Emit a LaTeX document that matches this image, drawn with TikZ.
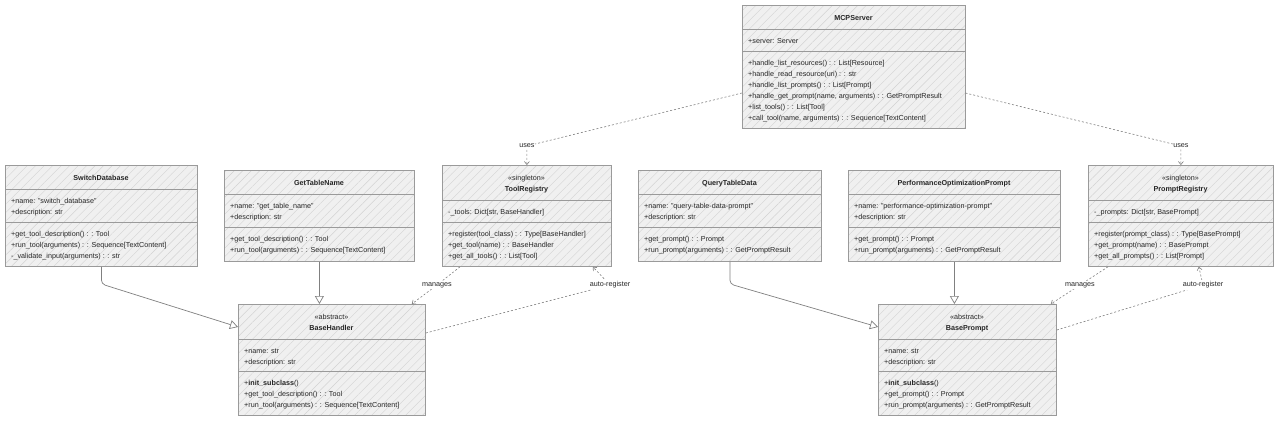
\documentclass[tikz,border=0pt]{standalone}
\usepackage{fontspec}
\setmainfont{Liberation Sans}
\usepackage{tikz}
\usetikzlibrary{arrows.meta,positioning,patterns.meta}
\definecolor{boxfill}{HTML}{F0F0F0}
\definecolor{hatch}{HTML}{D2D2D2}
\definecolor{boxline}{HTML}{9A9A9A}
\definecolor{ink}{HTML}{262626}
\definecolor{edgegrey}{HTML}{808080}
\newcommand{\umlfont}{\fontsize{7.2}{9}\selectfont}
\tikzset{
  classbox/.style={draw=boxline, line width=0.8pt, inner sep=0pt, anchor=north west,
                   preaction={fill=boxfill},
                   pattern={Lines[angle=45,distance=6pt,line width=0.4pt]},
                   pattern color=hatch},
  sepline/.style={draw=boxline, line width=0.8pt},
  cname/.style={font=\umlfont\bfseries, text=ink, inner sep=0pt, yshift=-2pt,
                text height=5.4pt, text depth=1.6pt},
  stereo/.style={font=\umlfont, text=ink, inner sep=0pt, yshift=-2pt,
                 text height=5.4pt, text depth=1.6pt},
  member/.style={font=\umlfont, text=ink, inner sep=0pt, anchor=west, yshift=-2pt,
                 text height=5.4pt, text depth=1.6pt},
  inherit/.style={-{Triangle[length=8pt,width=9pt,fill=white]}, draw=edgegrey,
                  line width=0.7pt, rounded corners=4pt},
  dep/.style={-{Straight Barb[length=3pt,width=5pt]}, draw=edgegrey,
              line width=0.6pt, dash pattern=on 2pt off 2pt, rounded corners=4pt},
  lbl/.style={font=\umlfont, text=ink, fill=white, inner sep=1.5pt},
}

\begin{document}
\begin{tikzpicture}[x=1pt, y=-1pt]
\fill[white] (0,0) rectangle (1280,422);
\useasboundingbox (0,0) rectangle (1280,422);

% ---------------- MCPServer ----------------------------------------------
\begin{scope}[shift={(742,5)}]
  \node[classbox, minimum width=223pt, minimum height=123pt] (mcp) at (0,0) {};
  \node[cname] (mcp-name) at (111.5,12) {MCPServer};
  \draw[sepline] (0,24) -- (223,24) (0,46) -- (223,46);
  \node[member] (mcp-a1) at (6,35) {+server: Server};
  \foreach \m [count=\k] in {{+handle\_list\_resources() : : List[Resource]},
      {+handle\_read\_resource(uri) : : str},
      {+handle\_list\_prompts() : : List[Prompt]},
      {+handle\_get\_prompt(name, arguments) : : GetPromptResult},
      {+list\_tools() : : List[Tool]},
      {+call\_tool(name, arguments) : : Sequence[TextContent]}}
    \node[member] (mcp-m\k) at (6,46+11*\k) {\m};
\end{scope}

% ---------------- tool classes -------------------------------------------
\begin{scope}[shift={(5,165)}]
  \node[classbox, minimum width=192pt, minimum height=101pt] (sw) at (0,0) {};
  \node[cname] (sw-name) at (96,12) {SwitchDatabase};
  \draw[sepline] (0,24) -- (192,24) (0,57) -- (192,57);
  \node[member] (sw-a1) at (6,35) {+name: "switch\_database"};
  \node[member] (sw-a2) at (6,46) {+description: str};
  \foreach \m [count=\k] in {{+get\_tool\_description() : : Tool},
      {+run\_tool(arguments) : : Sequence[TextContent]},
      {-\_validate\_input(arguments) : : str}}
    \node[member] (sw-m\k) at (6,57+11*\k) {\m};
\end{scope}

\begin{scope}[shift={(224,170)}]
  \node[classbox, minimum width=190pt, minimum height=91pt] (gt) at (0,0) {};
  \node[cname] (gt-name) at (95,12) {GetTableName};
  \draw[sepline] (0,24) -- (190,24) (0,57) -- (190,57);
  \node[member] (gt-a1) at (6,35) {+name: "get\_table\_name"};
  \node[member] (gt-a2) at (6,46) {+description: str};
  \node[member] (gt-m1) at (6,68) {+get\_tool\_description() : : Tool};
  \node[member] (gt-m2) at (6,79) {+run\_tool(arguments) : : Sequence[TextContent]};
\end{scope}

\begin{scope}[shift={(442,165)}]
  \node[classbox, minimum width=169pt, minimum height=101pt] (tr) at (0,0) {};
  \node[stereo] (tr-st) at (84.5,12) {«singleton»};
  \node[cname] (tr-name) at (84.5,23) {ToolRegistry};
  \draw[sepline] (0,35) -- (169,35) (0,57) -- (169,57);
  \node[member] (tr-a1) at (6,46) {-\_tools: Dict[str, BaseHandler]};
  \foreach \m [count=\k] in {{+register(tool\_class) : : Type[BaseHandler]},
      {+get\_tool(name) : : BaseHandler},
      {+get\_all\_tools() : : List[Tool]}}
    \node[member] (tr-m\k) at (6,57+11*\k) {\m};
\end{scope}

% ---------------- prompt classes -----------------------------------------
\begin{scope}[shift={(638,170)}]
  \node[classbox, minimum width=183pt, minimum height=91pt] (qt) at (0,0) {};
  \node[cname] (qt-name) at (91.5,12) {QueryTableData};
  \draw[sepline] (0,24) -- (183,24) (0,57) -- (183,57);
  \node[member] (qt-a1) at (6,35) {+name: "query-table-data-prompt"};
  \node[member] (qt-a2) at (6,46) {+description: str};
  \node[member] (qt-m1) at (6,68) {+get\_prompt() : : Prompt};
  \node[member] (qt-m2) at (6,79) {+run\_prompt(arguments) : : GetPromptResult};
\end{scope}

\begin{scope}[shift={(848,170)}]
  \node[classbox, minimum width=212pt, minimum height=91pt] (po) at (0,0) {};
  \node[cname] (po-name) at (106,12) {PerformanceOptimizationPrompt};
  \draw[sepline] (0,24) -- (212,24) (0,57) -- (212,57);
  \node[member] (po-a1) at (6,35) {+name: "performance-optimization-prompt"};
  \node[member] (po-a2) at (6,46) {+description: str};
  \node[member] (po-m1) at (6,68) {+get\_prompt() : : Prompt};
  \node[member] (po-m2) at (6,79) {+run\_prompt(arguments) : : GetPromptResult};
\end{scope}

\begin{scope}[shift={(1088,165)}]
  \node[classbox, minimum width=185pt, minimum height=101pt] (pr) at (0,0) {};
  \node[stereo] (pr-st) at (92.5,12) {«singleton»};
  \node[cname] (pr-name) at (92.5,23) {PromptRegistry};
  \draw[sepline] (0,35) -- (185,35) (0,57) -- (185,57);
  \node[member] (pr-a1) at (6,46) {-\_prompts: Dict[str, BasePrompt]};
  \foreach \m [count=\k] in {{+register(prompt\_class) : : Type[BasePrompt]},
      {+get\_prompt(name) : : BasePrompt},
      {+get\_all\_prompts() : : List[Prompt]}}
    \node[member] (pr-m\k) at (6,57+11*\k) {\m};
\end{scope}

% ---------------- abstract bases -----------------------------------------
\begin{scope}[shift={(238,304)}]
  \node[classbox, minimum width=187pt, minimum height=111pt] (bh) at (0,0) {};
  \node[stereo] (bh-st) at (93.5,12) {«abstract»};
  \node[cname] (bh-name) at (93.5,23) {BaseHandler};
  \draw[sepline] (0,35) -- (187,35) (0,67) -- (187,67);
  \node[member] (bh-a1) at (6,45.5) {+name: str};
  \node[member] (bh-a2) at (6,56.5) {+description: str};
  \foreach \m [count=\k] in {{+\textbf{init\_subclass}()},
      {+get\_tool\_description() : : Tool},
      {+run\_tool(arguments) : : Sequence[TextContent]}}
    \node[member] (bh-m\k) at (6,67+11*\k) {\m};
\end{scope}

\begin{scope}[shift={(878,304)}]
  \node[classbox, minimum width=178pt, minimum height=111pt] (bp) at (0,0) {};
  \node[stereo] (bp-st) at (89,12) {«abstract»};
  \node[cname] (bp-name) at (89,23) {BasePrompt};
  \draw[sepline] (0,35) -- (178,35) (0,67) -- (178,67);
  \node[member] (bp-a1) at (6,45.5) {+name: str};
  \node[member] (bp-a2) at (6,56.5) {+description: str};
  \foreach \m [count=\k] in {{+\textbf{init\_subclass}()},
      {+get\_prompt() : : Prompt},
      {+run\_prompt(arguments) : : GetPromptResult}}
    \node[member] (bp-m\k) at (6,67+11*\k) {\m};
\end{scope}

% ---------------- inheritance --------------------------------------------
\draw[inherit] (sw.south) -- (sw.south |- 0,284) -- (bh.west |- 0,327);
\draw[inherit] (gt.south) -- (gt.south |- bh.north);
\draw[inherit] (qt.south) -- (qt.south |- 0,284) -- (bp.west |- 0,327);
\draw[inherit] (po.south) -- (po.south |- bp.north);

% ---------------- dependencies -------------------------------------------
\draw[dep] (mcp.west |- 0,93) -- (tr.north |- 0,146) node[lbl] (uses-tr) {uses}
  -- (tr.north);
\draw[dep] (mcp.east |- 0,93) -- (pr.north |- 0,146) node[lbl] (uses-pr) {uses}
  -- (pr.north);
\draw[dep] ([xshift=18pt]tr.south west) -- (437,285) node[lbl] (man-tr) {manages}
  -- ([xshift=-14pt]bh.north east);
\draw[dep] ([yshift=-29pt]bh.north east) -- (610,285) node[lbl] (auto-tr) {auto-register}
  -- ([xshift=-19pt]tr.south east);
\draw[dep] ([xshift=20pt]pr.south west) -- (1080,285) node[lbl] (man-pr) {manages}
  -- ([xshift=-6pt]bp.north east);
\draw[dep] ([yshift=-26pt]bp.north east) -- (1203,285) node[lbl] (auto-pr) {auto-register}
  -- ([xshift=-75pt]pr.south east);
\end{tikzpicture}
\end{document}
